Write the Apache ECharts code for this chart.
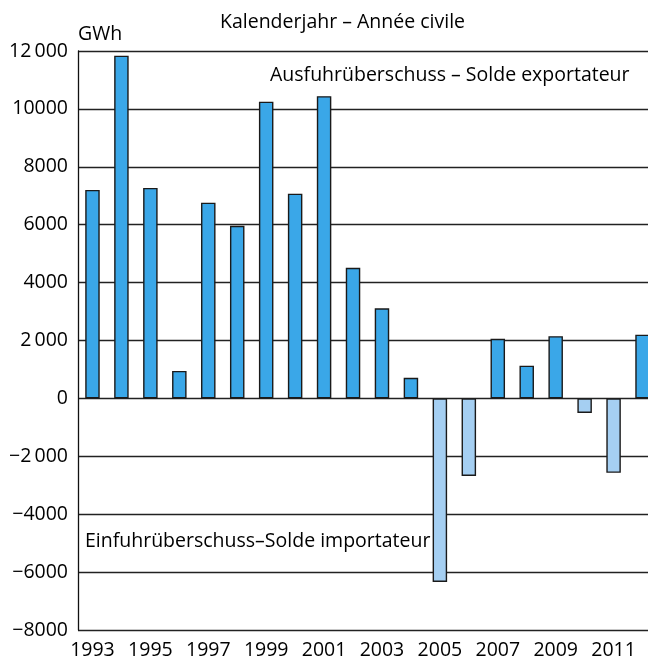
<!DOCTYPE html>
<html>
<head>
<meta charset="utf-8">
<script src="https://cdn.jsdelivr.net/npm/echarts@6/dist/echarts.min.js"></script>
<style>
    html, body { margin: 0; padding: 0; background: #fff; overflow: hidden; }
    /* a bit wider than the window: the last bar is cut off at the right edge */
    #chart { width: 657px; height: 662px; }
</style>
</head>
<body>
<div id="chart"></div>
<script>
// Jahre / années
const years = ['1993', '1994', '1995', '1996', '1997', '1998', '1999', '2000', '2001', '2002',
    '2003', '2004', '2005', '2006', '2007', '2008', '2009', '2010', '2011', '2012'];
// Saldo in GWh
const balance = [7200, 11840, 7270, 950, 6760, 5960, 10250, 7070, 10440, 4510,
    3110, 710, -6340, -2680, 2060, 1130, 2150, -500, -2570, 2200];
const yTicks = [-8000, -6000, -4000, -2000, 0, 2000, 4000, 6000, 8000, 10000, 12000];
const yLabels = ['\u22128000', '\u22126000', '\u22124000', '\u22122\u2009000', '0', '2\u2009000',
    '4000', '6000', '8000', '10000', '12\u2009000'];

const FONT = 'Open Sans';
const exportColor = '#3aa7e8';
const importColor = '#a5cff2';
const textFont = '19.5px "' + FONT + '"';

let chart = echarts.init(document.getElementById('chart'), null, { renderer: 'canvas' });

let data = balance.map(v => ({
    value: v,
    itemStyle: { color: v < 0 ? importColor : exportColor }
}));

let option = {
    backgroundColor: '#fff',
    animation: false,
    textStyle: { fontFamily: FONT },
    grid: { left: 78, top: 51, bottom: 32, right: 0 },
    xAxis: {
        type: 'category',
        data: years,
        axisLine: { show: false },
        axisTick: { show: false },
        axisLabel: { interval: 1, color: '#000', fontSize: 19.5, fontFamily: FONT, margin: 10 }
    },
    yAxis: {
        type: 'value',
        min: yTicks[0],
        max: yTicks[yTicks.length - 1],
        interval: 2000,
        axisLine: { show: true, lineStyle: { color: '#111', width: 1.3 } },
        axisTick: { show: false },
        axisLabel: {
            color: '#000', fontSize: 19.5, fontFamily: FONT, margin: 10,
            formatter: v => yLabels[yTicks.indexOf(v)]
        },
        splitLine: { show: true, lineStyle: { color: '#222', width: 1.3 } }
    },
    series: [{
        type: 'bar',
        data: data,
        barWidth: 14.5,
        itemStyle: { borderColor: '#1a1a1a', borderWidth: 1.4 }
    }],
    graphic: [
        { type: 'text', style: { x: 220, y: 22, verticalAlign: 'middle', text: 'Kalenderjahr \u2013 Ann\u00e9e civile', font: textFont, fill: '#000' } },
        { type: 'text', style: { x: 78, y: 34, verticalAlign: 'middle', text: 'GWh', font: textFont, fill: '#000' } },
        { type: 'text', style: { x: 270, y: 75, verticalAlign: 'middle', text: 'Ausfuhr\u00fcberschuss \u2013 Solde exportateur', font: textFont, fill: '#000' } },
        { type: 'text', style: { x: 85, y: 541, verticalAlign: 'middle', text: 'Einfuhr\u00fcberschuss\u2013Solde importateur', font: textFont, fill: '#000', backgroundColor: '#fff' } }
    ]
};
chart.setOption(option);
</script>
</body>
</html>
